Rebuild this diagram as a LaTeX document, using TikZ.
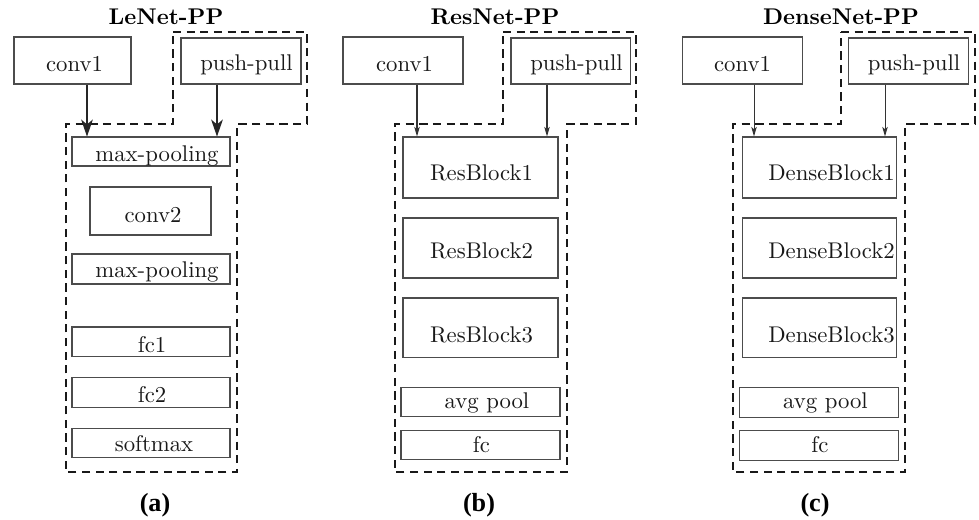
\documentclass[tikz,border=0pt]{standalone}
\usepackage{fontspec}
\newfontfamily\lblfont{Liberation Serif}
\usetikzlibrary{arrows.meta,fit,calc}
\tikzset{
  blk/.style={draw=black!70, line width=0.45pt, inner sep=0pt},
  txt/.style={anchor=base, inner sep=0pt, font=\fontsize{10}{12}\selectfont, text=black!90},
  ttl/.style={anchor=base, inner sep=0pt, font=\fontsize{10}{12}\selectfont\bfseries},
  lbl/.style={anchor=base, inner sep=0pt, font=\lblfont\bfseries\fontsize{11.5}{13}\selectfont},
  grp/.style={draw=black!90, line width=0.95pt, dash pattern=on 3.6pt off 2.4pt},
  arrA/.style={draw=black!85, line width=0.5pt, -{Stealth[length=7.5pt,width=5.2pt,inset=2.2pt]}},
  arrB/.style={draw=black!80, line width=0.45pt, -{Stealth[length=4.2pt,width=2.4pt,inset=1pt]}},
}
% layer box: name, corner x1 y1, corner x2 y2, text x, text baseline, text
\newcommand\lyr[8]{%
  \node[blk, fit={(#2,#3) (#4,#5)}] (#1) {};
  \node[txt] (#1t) at (#6,#7) {#8};}
\begin{document}
\begin{tikzpicture}[x=0.44pt, y=-0.44pt]
\useasboundingbox (0,0) rectangle (979,519);

% ---------------- LeNet-PP ----------------
\node[ttl] (attl) at (166,24) {LeNet-PP};
\draw[grp] (173,32) -- (307,32) -- (307,124) -- (237,124) -- (237,472)
  -- (66,472) -- (66,124) -- (173,124) -- cycle;
\lyr{aconv}{14}{37}{131}{84}{74.5}{71}{conv1}
\lyr{app}{181}{38}{301}{84}{246.5}{70}{push-pull}
\lyr{amp1}{72}{137}{230}{166}{157}{161}{max-pooling}
\lyr{aconvb}{90}{187}{211}{235}{153}{222}{conv2}
\lyr{amp2}{72}{254}{230}{284}{157}{277}{max-pooling}
\lyr{afc1}{72}{327}{230}{356}{152}{352}{fc1}
\lyr{afc2}{72}{377}{230}{407}{152}{402}{fc2}
\lyr{asm}{72}{428}{230}{457}{154}{451}{softmax}
\path ($(aconv.south)+(14.5,0)$) coordinate (a1s);
\path ($(app.south)+(-24,0)$) coordinate (a2s);
\draw[arrA] (a1s) -- (a1s |- amp1.north);
\draw[arrA] (a2s) -- (a2s |- amp1.north);
\node[lbl] (albl) at (155,511) {(a)};

% ---------------- ResNet-PP ----------------
\node[ttl] (bttl) at (495,24) {ResNet-PP};
\draw[grp] (503,32) -- (636,32) -- (636,124) -- (567,124) -- (567,472)
  -- (395,472) -- (395,124) -- (503,124) -- cycle;
\lyr{bconv}{343}{37}{463}{84}{404.5}{71}{conv1}
\lyr{bpp}{511}{38}{630}{84}{576.5}{70}{push-pull}
\lyr{brb1}{403}{137}{558}{198}{481.5}{180}{ResBlock1}
\lyr{brb2}{403}{218}{558}{278}{481.5}{258}{ResBlock2}
\lyr{brb3}{403}{298}{558}{357}{481.5}{342}{ResBlock3}
\lyr{bavg}{401}{387}{560}{416}{487}{408}{avg pool}
\lyr{bfc}{401}{430}{560}{459}{481.5}{452}{fc}
\path ($(bconv.south)+(14,0)$) coordinate (b1s);
\path ($(bpp.south)+(-23.5,0)$) coordinate (b2s);
\draw[arrB] (b1s) -- (b1s |- brb1.north);
\draw[arrB] (b2s) -- (b2s |- brb1.north);
\node[lbl] (blbl) at (479,511) {(b)};

% ---------------- DenseNet-PP ----------------
\node[ttl] (cttl) at (841,24) {DenseNet-PP};
\draw[grp] (841,32) -- (975,32) -- (975,124) -- (905,124) -- (905,472)
  -- (733,472) -- (733,124) -- (841,124) -- cycle;
\lyr{cconv}{682}{37}{802}{84}{742.5}{71}{conv1}
\lyr{cpp}{848}{38}{968}{84}{914}{70}{push-pull}
\lyr{cdb1}{742}{137}{896}{198}{831.5}{180}{DenseBlock1}
\lyr{cdb2}{742}{218}{896}{278}{831.5}{258}{DenseBlock2}
\lyr{cdb3}{742}{298}{896}{357}{831.5}{342}{DenseBlock3}
\lyr{cavg}{739}{387}{898}{417}{825.5}{408}{avg pool}
\lyr{cfc}{739}{430}{898}{460}{820}{452}{fc}
\path ($(cconv.south)+(12,0)$) coordinate (c1s);
\path ($(cpp.south)+(-23,0)$) coordinate (c2s);
\draw[arrB] (c1s) -- (c1s |- cdb1.north);
\draw[arrB] (c2s) -- (c2s |- cdb1.north);
\node[lbl] (clbl) at (815,511) {(c)};
\end{tikzpicture}
\end{document}
